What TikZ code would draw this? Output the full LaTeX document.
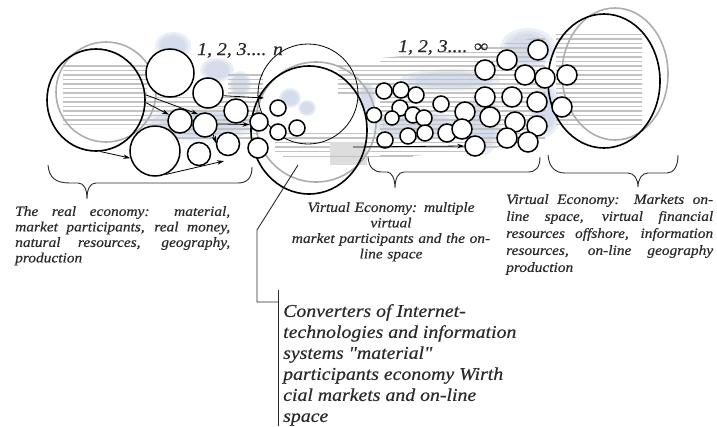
\documentclass[tikz,border=0pt]{standalone}
\usepackage{fontspec}
\setmainfont{Liberation Serif}
\newfontfamily\labfont[FakeStretch=1.1, FakeBold=0.5]{Liberation Serif}
\usetikzlibrary{arrows.meta,shapes.geometric}

\definecolor{inkgray}{HTML}{2A2A2A}
\definecolor{hatchgray}{HTML}{C2C2C2}
\definecolor{cloudblue}{HTML}{C3CFE4}
\definecolor{ringgray}{HTML}{ADADAD}

% a soft-edged blue cloud: centre, x radius, y radius
\newcommand\softcloud[3]{%
  \foreach \s in {1.0,0.85,0.7}
    \fill[cloudblue, opacity=0.33] (#1) ellipse [x radius={\s*#2 pt}, y radius={\s*#3 pt}];}

\tikzset{
  bub/.style={circle, draw=black, line width=1.5pt, fill=white, inner sep=0pt},
  bigring/.style={ellipse, draw=black, line width=1.6pt, inner sep=0pt},
  grayring/.style={ellipse, draw=ringgray, line width=1.6pt, inner sep=0pt},
  thinring/.style={circle, draw=black, line width=0.8pt, inner sep=0pt},
  flow/.style={draw=black, line width=0.8pt, -{Stealth[length=7pt,width=4.5pt]}},
  bracepath/.style={draw=inkgray, line width=0.9pt},
  leader/.style={draw=inkgray, line width=0.9pt},
  caption/.style={inner sep=0pt, text=inkgray,
    font=\labfont\itshape\fontsize{14}{15.5}\selectfont},
  counter/.style={inner sep=0pt, text=inkgray,
    font=\labfont\itshape\fontsize{18}{20}\selectfont},
}

\begin{document}
\begin{tikzpicture}[x=1pt, y=-1pt]
\useasboundingbox (0,0) rectangle (717,426);

% soft blue clouds behind the bubbles
\softcloud{173,46}{18}{14}
\softcloud{217,70}{17}{12}
\softcloud{200,124}{58}{17}
\softcloud{240,84}{11}{13}
\softcloud{290,98}{11}{10}
\softcloud{307,108}{9}{8}
\softcloud{367,98}{9}{16}
\softcloud{450,80}{50}{11}
\softcloud{415,125}{47}{15}
\softcloud{528,48}{28}{20}
\softcloud{483,123}{18}{32}
\softcloud{545,110}{16}{27}

% horizontal grey hatching band
\begin{scope}
  \clip (63,62) rectangle (147,128)
        (147,96) rectangle (260,142)
        (147,64) rectangle (158,84)
        (228,72) rectangle (263,95)
        (338,62) rectangle (380,96)
        (275,133) rectangle (380,152)
        (380,58) -- (470,50) -- (545,36) -- (545,140) -- (470,152) -- (380,158) -- cycle
        (556,33) rectangle (642,128);
  \foreach \k in {0,...,29}
    \draw[hatchgray, line width=1.7pt] (55,{30+4.5*\k}) -- (650,{30+4.5*\k});
\end{scope}
\fill[hatchgray!55] (330,142) rectangle (367,165);
\draw[hatchgray, line width=1pt] (283,156) -- (413,156);

% grey rings
\node[grayring, minimum width=100pt, minimum height=100pt] (Lg) at (106,92) {};
\node[grayring, minimum width=120pt, minimum height=120pt] (Mg) at (316,122) {};
\node[grayring, minimum width=106pt, minimum height=132pt] (Rg) at (615,74) {};

% large black rings
\node[bigring, minimum width=98pt, minimum height=102pt] (L) at (96,100) {};
\node[bigring, minimum width=116pt, minimum height=128pt] (M) at (309,130) {};
\node[thinring, minimum size=100pt] (Mt) at (308,94) {};
\node[bigring, minimum width=112pt, minimum height=134pt] (R) at (604,81) {};

% bubbles: real participants, converters, virtual participants, virtual markets
\foreach \n/\x/\y/\r in {
  a1/170/73/24, a2/208/93/15, a3/236/111/12, a4/180/121/12,
  a5/205/125/12, a6/155/151/25, a7/199/154/11.5, a8/228/144/11.5,
  m1/259/122/9, m2/258/148/10, m3/278/108/8, m4/278/132/8, m5/297/128/8,
  v1/374/115/7.5, v2/384/91/8, v3/401/90/8, v4/416/95/8, v5/400/108/8,
  v6/392/118/7, v7/413/115/8, v8/424/118/8, v9/441/104/8, v10/385/140/8,
  v11/408/136/8, v12/425/133/8, v13/447/133/9, v14/465/112/10,
  v15/462/129/10, v16/475/146/10,
  r1/538/50/10, r2/507/60/10, r3/485/70/10, r4/525/75/10, r5/545/78/10,
  r6/567/75/10, r7/485/97/10, r8/512/97/10, r9/537/102/10, r10/562/107/10,
  r11/490/117/10, r12/515/122/10, r13/537/126/10, r14/507/138/10,
  r15/528/142/10}
  \node[bub, minimum size={2*\r pt}] (\n) at (\x,\y) {};

% flows between participants
\coordinate (d1) at (224,161);
\coordinate (g1) at (264,98);
\coordinate (h0) at (353,147);
\draw[flow] (L.-85) -- (a6.196);
\draw[flow] (L.-3) -- (a4.150);
\draw[flow] (L.6) -- (a5.122);
\draw[flow] (a6.-66) -- (d1);
\draw[flow] (a5.-50) -- (a8.175);
\draw[flow] (a5.5) -- (m1.195);
\draw[flow] (a2.-10) -- (g1);
\draw[flow] (h0) -- (v16.west);

% counters
\node[counter, anchor=base west] (cntn) at (197,55) {1, 2, 3.... n};
\node[counter, anchor=base west] (cntinf) at (398,52) {1, 2, 3.... ∞};

% braces
\draw[bracepath] (48,165) .. controls (49,178) and (56,183) .. (70,183) -- (78,183)
  .. controls (84,183) and (87,189) .. (87,199)
  .. controls (87,189) and (90,183) .. (96,183) -- (238,183)
  .. controls (247,183) and (252,178) .. (252,167);
\draw[bracepath] (368,157) .. controls (369,168) and (374,172) .. (382,172) -- (387,172)
  .. controls (392,172) and (395,179) .. (395,188)
  .. controls (395,179) and (398,172) .. (404,172) -- (528,172)
  .. controls (536,172) and (540,167) .. (540,157);
\draw[bracepath] (548,155) .. controls (549,167) and (555,173) .. (565,173) -- (628,173)
  .. controls (634,173) and (638,179) .. (638,187)
  .. controls (638,179) and (642,173) .. (648,173) -- (667,173)
  .. controls (674,173) and (678,166) .. (678,155);

% captions
\node[caption, anchor=north west, text width=215pt, align=justify] (realtxt) at (15,206)
  {\hyphenpenalty=10000 The real economy: material,\linebreak market participants, real money,\linebreak natural resources, geography,\linebreak production};
\node[caption, anchor=north, text width=210pt, align=center] (virttxt) at (391,202)
  {Virtual Economy: multiple\\ virtual\\ market participants and the on-\\ line space};
\node[caption, anchor=north west, text width=207pt, align=justify,
      font=\labfont\itshape\fontsize{14}{17}\selectfont] (markettxt) at (506,194)
  {\hyphenpenalty=10000 Virtual Economy: Markets on-\linebreak line space, virtual financial\linebreak resources offshore, information\linebreak resources, on-line geography\linebreak production};
\node[caption, anchor=north west, align=left,
      font=\labfont\itshape\fontsize{18}{21}\selectfont] (convtxt) at (283,304)
  {Converters of Internet-\\ technologies and information\\ systems "material"\\ participants economy Wirth\\ cial markets and on-line\\ space};

% leader from the converter ring to its caption
\coordinate (lead0) at (298,165);
\coordinate (lead1) at (257,230);
\coordinate (lead2) at (257,302);
\coordinate (lead3) at (278,302);
\coordinate (bar0) at (278,290);
\coordinate (bar1) at (278,426);
\draw[leader] (lead0) -- (lead1) -- (lead2) -- (lead3);
\draw[leader] (bar0) -- (bar1);
\end{tikzpicture}
\end{document}
